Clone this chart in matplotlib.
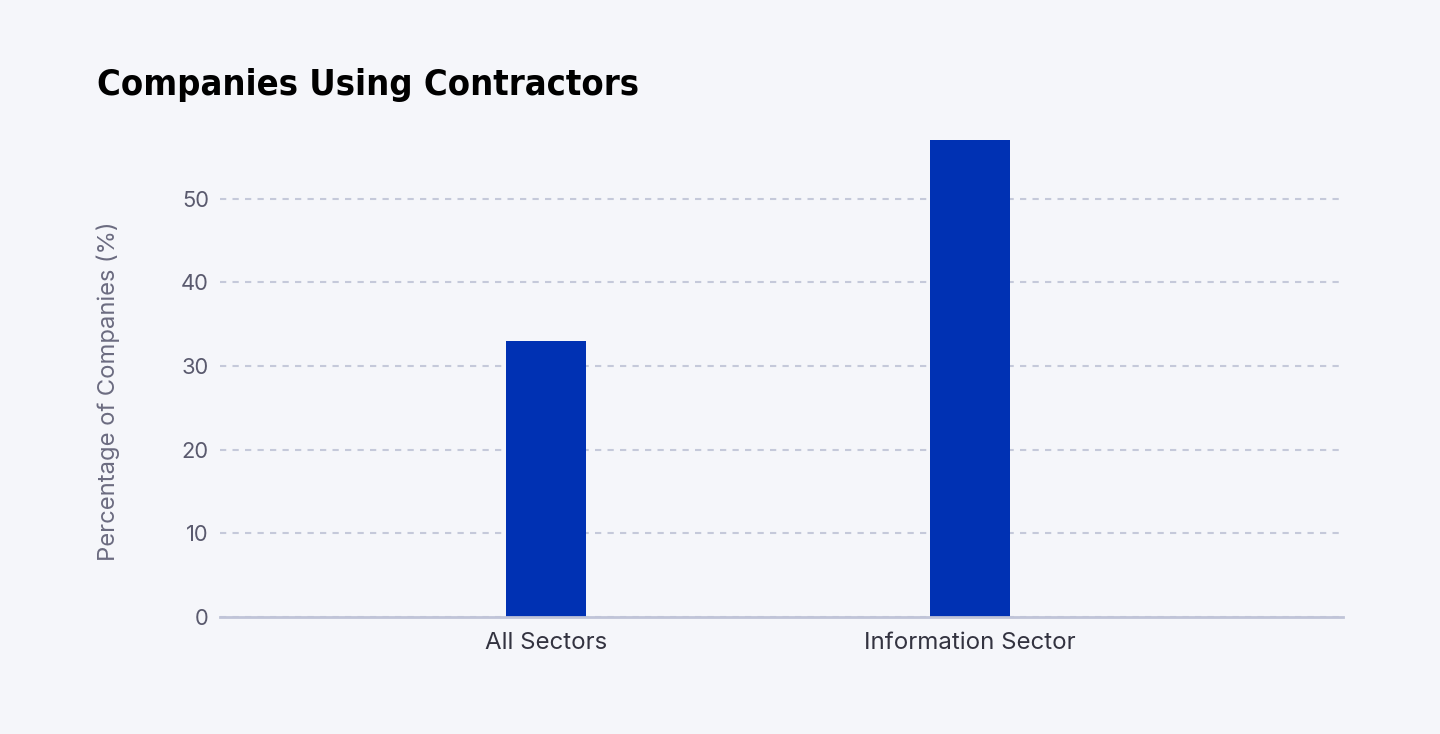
import matplotlib.pyplot as plt
import numpy as np
from matplotlib import font_manager

categories = ["All Sectors", "Information Sector"]
values = [33, 57]

BG = "#f5f6fa"
BAR = "#0031b3"
GRID = "#c5c9da"


def main() -> None:
    plt.rcParams["font.family"] = ["Inter", "DejaVu Sans"]
    fig = plt.figure(figsize=(14.4, 7.34), dpi=100, facecolor=BG)
    ax = fig.add_axes([220 / 1440, 1 - 617 / 734, 1123 / 1440, 477 / 734])
    ax.set_facecolor(BG)

    x = np.arange(len(categories))
    ax.bar(x, values, width=80 / 424, color=BAR, zorder=2)

    ax.set_xlim(-326 / 424, 797 / 424)
    ax.set_ylim(0, 57)
    ax.set_yticks(range(0, 51, 10))
    ax.set_xticks(x)
    ax.set_xticklabels(categories, fontsize=17.3, color="#333340")
    ax.tick_params(axis="y", labelsize=15.8, colors="#5a5a6e", length=0, pad=8)
    ax.tick_params(axis="x", length=0, pad=11)

    ax.grid(axis="y", color=GRID, linewidth=1.5, linestyle=(0, (3, 3)), zorder=1)
    for side in ["top", "right", "left"]:
        ax.spines[side].set_visible(False)
    ax.spines["bottom"].set_color("#c0c4d8")
    ax.spines["bottom"].set_linewidth(2)
    ax.spines["bottom"].set_zorder(3)

    ax.set_ylabel("Percentage of Companies (%)", fontsize=17.1, color="#6b6b80")
    ax.yaxis.set_label_coords(-100 / 1123, (617 - 391) / 477)

    names = {f.name for f in font_manager.fontManager.ttflist}
    title_family = "Liberation Sans Narrow" if "Liberation Sans Narrow" in names else "DejaVu Sans"
    fig.text(97 / 1440, 1 - 85 / 734, "Companies Using Contractors",
             fontsize=26, fontweight="bold", color="#000000",
             family=title_family, fontstretch="condensed", va="center")

    plt.savefig("out.png", dpi=100, facecolor=BG)


if __name__ == '__main__':
    main()
